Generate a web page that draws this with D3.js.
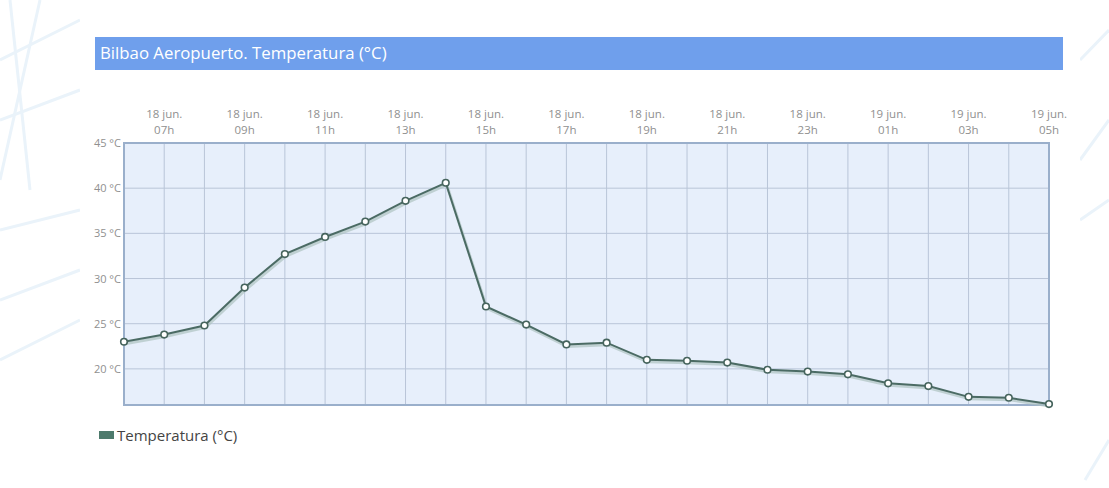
<!DOCTYPE html>
<html><head><meta charset="utf-8">
<script src="https://cdn.jsdelivr.net/npm/d3@7"></script>
<style>
html,body{margin:0;padding:0;background:#fff;}
svg{display:block;font-family:"Open Sans",sans-serif;}
</style></head>
<body>
<svg id="c" width="1109" height="488"></svg>
<script>
const title = "Bilbao Aeropuerto. Temperatura (°C)";
const seriesName = "Temperatura (°C)";
const days = ["18 jun.","18 jun.","18 jun.","18 jun.","18 jun.","18 jun.","18 jun.","18 jun.","18 jun.","18 jun.","18 jun.","18 jun.","18 jun.","18 jun.","18 jun.","18 jun.","18 jun.","18 jun.","19 jun.","19 jun.","19 jun.","19 jun.","19 jun.","19 jun."];
const hours = ["06h","07h","08h","09h","10h","11h","12h","13h","14h","15h","16h","17h","18h","19h","20h","21h","22h","23h","00h","01h","02h","03h","04h","05h"];
const temps = [23.0,23.8,24.8,29.0,32.7,34.6,36.3,38.6,40.6,26.9,24.9,22.7,22.9,21.0,20.9,20.7,19.9,19.7,19.4,18.4,18.1,16.9,16.8,16.1];
const yTicks = [20,25,30,35,40,45];
const yDomain = [16,45];

const svg = d3.select("#c");
// decorative background
const deco = svg.append("g").attr("fill","none").attr("stroke","#eaf3fa").attr("stroke-width",3);
[[[0,60],[80,20]],[[0,120],[80,90]],[[10,0],[30,190]],[[0,230],[80,210]],[[0,300],[80,270]],[[0,360],[80,320]],[[40,0],[0,180]],[[1080,60],[1109,30]],[[1080,160],[1109,120]],[[1080,220],[1109,200]],[[1085,480],[1109,440]]].forEach(p=>deco.append("path").attr("d",d3.line()(p)));
svg.append("rect").attr("x",80).attr("y",0).attr("width",1000).attr("height",488).attr("fill","#fff");

// title bar
svg.append("rect").attr("x",95).attr("y",37).attr("width",968).attr("height",33).attr("fill","#6f9fec");
svg.append("text").attr("x",100).attr("y",59).attr("fill","#fff").attr("font-size",16.8).text(title);

const L=124,R=1049,T=143,B=405;
const x = d3.scaleLinear().domain([0,hours.length-1]).range([L,R]);
const y = d3.scaleLinear().domain(yDomain).range([B,T]);

svg.append("rect").attr("x",L).attr("y",T).attr("width",R-L).attr("height",B-T).attr("fill","#e7effb");

// grid
const g = svg.append("g").attr("stroke","#b9c5d8").attr("stroke-width",1);
hours.forEach((h,i)=>{ if(i>0&&i<hours.length-1) g.append("line").attr("x1",x(i)).attr("x2",x(i)).attr("y1",T).attr("y2",B);});
yTicks.forEach(t=>{ if(t<45) g.append("line").attr("x1",L).attr("x2",R).attr("y1",y(t)).attr("y2",y(t));});

svg.append("rect").attr("x",L).attr("y",T).attr("width",R-L).attr("height",B-T).attr("fill","none").attr("stroke","#9aafcb").attr("stroke-width",2);

// y axis labels
const ya = svg.append("g").attr("transform",`translate(${L-3},0)`).call(d3.axisLeft(y).tickValues(yTicks).tickSize(0).tickPadding(0).tickFormat(d=>d+" °C"));
ya.select(".domain").remove();
ya.selectAll("text").attr("fill","#909090").attr("font-size",11).attr("font-family","'Open Sans',sans-serif");

// top labels
const xa = svg.append("g");
hours.forEach((h,i)=>{ if(i%2===1){
  const t = xa.append("text").attr("text-anchor","middle").attr("fill","#909090").attr("font-size",11.5);
  t.append("tspan").attr("x",x(i)).attr("y",118).text(days[i]);
  t.append("tspan").attr("x",x(i)).attr("y",134).text(h);
}});

// line
const line = d3.line().x((d,i)=>x(i)).y(d=>y(d));
svg.append("path").datum(temps).attr("d",line).attr("fill","none").attr("stroke","#aec3c0").attr("stroke-width",3).attr("transform","translate(1,2)").attr("opacity",0.7);
svg.append("path").datum(temps).attr("d",line).attr("fill","none").attr("stroke","#4b6b64").attr("stroke-width",2);
svg.append("g").selectAll("circle").data(temps).join("circle").attr("cx",(d,i)=>x(i)).attr("cy",d=>y(d)).attr("r",3.3).attr("fill","#fff").attr("stroke","#46645d").attr("stroke-width",1.6);

// legend
svg.append("rect").attr("x",99).attr("y",431).attr("width",15).attr("height",8).attr("fill","#4d7a6c");
svg.append("text").attr("x",117).attr("y",441).attr("fill","#444").attr("font-size",15).text(seriesName);
</script>
</body></html>
